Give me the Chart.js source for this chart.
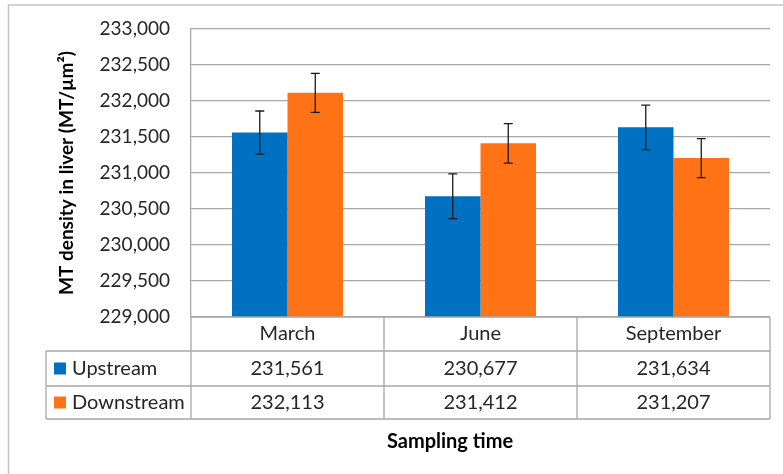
<!DOCTYPE html>
<html>
<head>
<meta charset="utf-8">
<script src="https://cdn.jsdelivr.net/npm/chart.js@4.4.0/dist/chart.umd.min.js"></script>
<style>
  html, body { margin: 0; padding: 0; background: #fff; }
</style>
</head>
<body>
<canvas id="chart" width="783" height="474"></canvas>
<script>
const categories = ['March', 'June', 'September'];
const seriesNames = ['Upstream', 'Downstream'];
const upstream = [231561, 230677, 231634];
const downstream = [232113, 231412, 231207];
const upstreamErr = [300, 310, 310];
const downstreamErr = [270, 275, 270];
const yMin = 229000;
const yMax = 233000;
const yStep = 500;
const xTitle = 'Sampling time';
const yTitle = 'MT density in liver (MT/\u00B5m\u00B2)';

const colors = ['#0070C0', '#FF7215'];
const errors = [upstreamErr, downstreamErr];
const fontFamily = 'Lato, "Open Sans", sans-serif';
const gridColor = '#a8a8a8';
const textColor = '#262626';

const fmt = v => v.toLocaleString('en-US');

// error bars on top of the bars
const errorBars = {
    id: 'errorBars',
    afterDatasetsDraw(chart) {
        const ctx = chart.ctx;
        const y = chart.scales.y;
        ctx.save();
        ctx.strokeStyle = '#1a1a1a';
        ctx.lineWidth = 1.3;
        chart.data.datasets.forEach((ds, d) => {
            const meta = chart.getDatasetMeta(d);
            meta.data.forEach((bar, i) => {
                const hi = y.getPixelForValue(ds.data[i] + errors[d][i]);
                const lo = y.getPixelForValue(ds.data[i] - errors[d][i]);
                ctx.beginPath();
                ctx.moveTo(bar.x, hi);
                ctx.lineTo(bar.x, lo);
                ctx.moveTo(bar.x - 4.5, hi);
                ctx.lineTo(bar.x + 4.5, hi);
                ctx.moveTo(bar.x - 4.5, lo);
                ctx.lineTo(bar.x + 4.5, lo);
                ctx.stroke();
            });
        });
        ctx.restore();
    }
};

// white page + outer frame
const frame = {
    id: 'frame',
    beforeDraw(chart) {
        const ctx = chart.ctx;
        ctx.save();
        ctx.fillStyle = '#fff';
        ctx.fillRect(0, 0, chart.width, chart.height);
        ctx.strokeStyle = '#c4c4c4';
        ctx.lineWidth = 1.5;
        ctx.beginPath();
        ctx.moveTo(8.5, chart.height);
        ctx.lineTo(8.5, 5);
        ctx.lineTo(chart.width, 5);
        ctx.stroke();
        ctx.restore();
    }
};

// data table under the x axis
const dataTable = {
    id: 'dataTable',
    afterDraw(chart) {
        const ctx = chart.ctx;
        const area = chart.chartArea;
        const x = chart.scales.x;
        const half = (area.right - area.left) / categories.length / 2;
        const cols = [area.left].concat(categories.map((c, i) => x.getPixelForValue(i) + half));
        const tableLeft = area.left - 145;
        const rows = [area.bottom, area.bottom + 34, area.bottom + 69, area.bottom + 102];

        ctx.save();
        ctx.strokeStyle = gridColor;
        ctx.lineWidth = 1.3;
        ctx.beginPath();
        ctx.moveTo(area.left, rows[0]);
        ctx.lineTo(area.right, rows[0]);
        for (let r = 1; r < rows.length; r++) {
            ctx.moveTo(tableLeft, rows[r]);
            ctx.lineTo(area.right, rows[r]);
        }
        cols.forEach(cx => {
            ctx.moveTo(cx, rows[0]);
            ctx.lineTo(cx, rows[3]);
        });
        ctx.moveTo(tableLeft, rows[1]);
        ctx.lineTo(tableLeft, rows[3]);
        ctx.stroke();

        const values = [upstream, downstream];
        ctx.font = '20px ' + fontFamily;
        ctx.textBaseline = 'middle';
        seriesNames.forEach((name, s) => {
            const cy = (rows[s + 1] + rows[s + 2]) / 2;
            ctx.fillStyle = colors[s];
            ctx.fillRect(tableLeft + 8, cy - 6, 12, 12);
            ctx.fillStyle = textColor;
            ctx.textAlign = 'left';
            ctx.fillText(name, tableLeft + 26, cy);
            ctx.textAlign = 'center';
            values[s].forEach((v, i) => ctx.fillText(fmt(v), x.getPixelForValue(i), cy));
        });

        ctx.font = 'bold 20px ' + fontFamily;
        ctx.fillStyle = '#000';
        ctx.textAlign = 'center';
        ctx.fillText(xTitle, 450, area.bottom + 125);
        ctx.restore();
    }
};

new Chart(document.getElementById('chart'), {
    type: 'bar',
    data: {
        labels: categories,
        datasets: [
            { label: seriesNames[0], data: upstream, backgroundColor: colors[0] },
            { label: seriesNames[1], data: downstream, backgroundColor: colors[1] }
        ]
    },
    options: {
        responsive: false,
        animation: false,
        devicePixelRatio: 1,
        categoryPercentage: 0.575,
        barPercentage: 1.0,
        layout: { padding: { left: 0, top: 29, right: 13, bottom: 0 } },
        plugins: {
            legend: { display: false },
            tooltip: { enabled: false }
        },
        scales: {
            x: {
                grid: { display: false, drawTicks: false },
                border: { display: false },
                ticks: { color: textColor, padding: 5, font: { family: fontFamily, size: 20 } },
                afterFit: s => { s.height = 157; }
            },
            y: {
                min: yMin,
                max: yMax,
                // invisible tick marks keep the labels away from the axis
                grid: { color: gridColor, lineWidth: 1.3, drawTicks: true, tickLength: 21, tickColor: 'rgba(0,0,0,0)' },
                border: { color: gridColor, width: 1.3 },
                ticks: {
                    stepSize: yStep,
                    padding: 0,
                    color: textColor,
                    font: { family: fontFamily, size: 19 },
                    callback: v => fmt(v)
                },
                title: {
                    display: true,
                    text: yTitle,
                    color: '#000',
                    padding: { top: 55, bottom: 0 },
                    font: { family: fontFamily, size: 19, weight: 'bold' }
                },
                afterFit: s => { s.width = 191; }
            }
        }
    },
    plugins: [frame, errorBars, dataTable]
});
</script>
</body>
</html>
